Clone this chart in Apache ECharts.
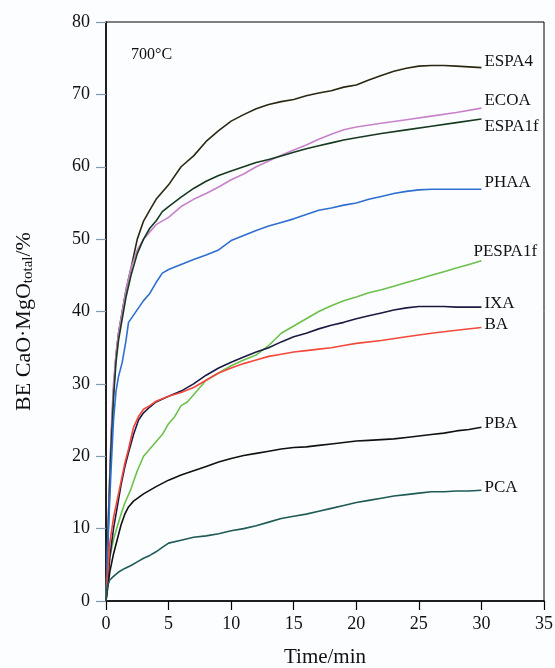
<!DOCTYPE html>
<html lang="en">
<head>
    <meta charset="utf-8">
    <title>700°C</title>
</head>
<body style="margin:0;background:#fcfdff;">
    <div id="main" style="width:555px;height:668px;"></div>
    <script src="https://cdn.jsdelivr.net/npm/echarts@6/dist/echarts.min.js"></script>
    <script type="text/javascript">
    // data: [time/min, BE %]
    var seriesNames = ['ESPA4', 'ECOA', 'ESPA1f', 'PHAA', 'PESPA1f', 'IXA', 'BA', 'PBA', 'PCA'];
    var xTicks = [0, 5, 10, 15, 20, 25, 30, 35];
    var yTicks = [0, 10, 20, 30, 40, 50, 60, 70, 80];

    var espa4 = [[0,0],[0.2,12],[0.4,22],[0.6,29],[0.8,34],[1,37],[1.3,40],[1.6,43],[2,46],[2.5,50],[3,52.5],[3.5,54],[4,55.5],[5,57.5],[6,60],[7,61.5],[8,63.5],[9,65],[10,66.3],[11,67.2],[12,68],[13,68.6],[14,69],[15,69.3],[16,69.8],[17,70.2],[18,70.5],[19,71],[20,71.3],[21,72],[22,72.6],[23,73.2],[24,73.6],[25,73.9],[26,74],[27,74],[28,73.9],[29,73.8],[30,73.7]];
    var ecoa = [[0,0],[0.2,12],[0.4,23],[0.6,30],[0.8,34],[1,37],[1.3,40],[1.6,43],[2,46],[2.5,48.5],[3,50],[3.5,51],[4,52],[5,53],[6,54.5],[7,55.5],[8,56.3],[9,57.2],[10,58.2],[11,59],[12,60],[13,60.8],[14,61.6],[15,62.3],[16,63],[17,63.8],[18,64.5],[19,65.1],[20,65.5],[22,66],[24,66.5],[26,67],[28,67.5],[30,68.1]];
    var espa1f = [[0,0],[0.2,11],[0.4,21],[0.6,28],[0.8,33],[1,36],[1.3,39],[1.6,42],[2,45],[2.5,48],[3,50],[3.5,51.5],[4,52.5],[4.5,53.8],[5,54.5],[6,55.8],[7,57],[8,58],[9,58.8],[10,59.4],[11,60],[12,60.6],[13,61],[14,61.5],[15,62],[16,62.5],[17,62.9],[18,63.3],[19,63.7],[20,64],[22,64.6],[24,65.1],[26,65.6],[28,66.1],[30,66.6]];
    var phaa = [[0,0],[0.2,10],[0.4,18],[0.6,25],[0.8,29],[1,31],[1.3,33],[1.6,36],[1.8,38.5],[2.2,39.5],[2.6,40.5],[3,41.5],[3.5,42.5],[4,44],[4.5,45.3],[5,45.8],[6,46.5],[7,47.2],[8,47.8],[9,48.5],[10,49.8],[11,50.5],[12,51.2],[13,51.8],[14,52.3],[15,52.8],[16,53.4],[17,54],[18,54.3],[19,54.7],[20,55],[21,55.5],[22,55.9],[23,56.3],[24,56.6],[25,56.8],[26,56.9],[28,56.9],[30,56.9]];
    var pespa1f = [[0,0],[0.3,6],[0.6,8.5],[0.9,10.3],[1.2,12],[1.5,13.5],[2,15.5],[2.5,18],[3,20],[3.5,21],[4,22],[4.5,23],[5,24.5],[5.5,25.5],[6,27],[6.5,27.5],[7,28.5],[7.5,29.5],[8,30.5],[9,31.5],[10,32.5],[11,33.3],[12,34],[13,35.3],[14,37],[15,38],[16,39],[17,40],[18,40.8],[19,41.5],[20,42],[21,42.6],[22,43],[23,43.5],[24,44],[25,44.5],[26,45],[27,45.5],[28,46],[29,46.5],[30,47]];
    var ixa = [[0,0],[0.3,6],[0.6,10],[0.9,13],[1.2,16],[1.5,18.5],[1.8,20.5],[2.2,23],[2.6,25],[3,26],[3.5,26.8],[4,27.5],[5,28.3],[6,29],[7,30],[8,31.2],[9,32.2],[10,33],[11,33.7],[12,34.4],[13,35],[14,35.8],[15,36.5],[16,37],[17,37.6],[18,38.1],[19,38.5],[20,39],[21,39.4],[22,39.8],[23,40.2],[24,40.5],[25,40.7],[26,40.7],[27,40.7],[28,40.6],[30,40.6]];
    var ba = [[0,0],[0.3,8],[0.6,11.5],[0.9,14],[1.2,16.5],[1.5,19],[1.8,21],[2.2,24],[2.6,25.5],[3,26.5],[3.5,27],[4,27.6],[5,28.3],[6,28.8],[7,29.5],[8,30.5],[9,31.5],[10,32.2],[11,32.8],[12,33.3],[13,33.8],[14,34.1],[15,34.4],[16,34.6],[17,34.8],[18,35],[19,35.3],[20,35.6],[22,36],[24,36.5],[26,37],[28,37.4],[30,37.8]];
    var pba = [[0,0],[0.3,4],[0.6,6.5],[0.9,8.5],[1.2,10.5],[1.5,12],[1.8,13],[2.2,13.8],[3,14.8],[4,15.8],[5,16.7],[6,17.4],[7,18],[8,18.6],[9,19.2],[10,19.7],[11,20.1],[12,20.4],[13,20.7],[14,21],[15,21.2],[16,21.3],[17,21.5],[18,21.7],[19,21.9],[20,22.1],[21,22.2],[22,22.3],[23,22.4],[24,22.6],[25,22.8],[26,23],[27,23.2],[28,23.5],[29,23.7],[30,24]];
    var pca = [[0,0],[0.1,2],[0.3,2.9],[0.6,3.4],[1,4],[1.5,4.5],[2,4.9],[2.5,5.4],[3,5.9],[3.5,6.3],[4,6.8],[4.5,7.4],[5,8],[6,8.4],[7,8.8],[8,9],[9,9.3],[10,9.7],[11,10],[12,10.4],[13,10.9],[14,11.4],[15,11.7],[16,12],[17,12.4],[18,12.8],[19,13.2],[20,13.6],[21,13.9],[22,14.2],[23,14.5],[24,14.7],[25,14.9],[26,15.1],[27,15.1],[28,15.2],[29,15.2],[30,15.3]];

    var seriesData = [espa4, ecoa, espa1f, phaa, pespa1f, ixa, ba, pba, pca];

    // look of each curve and where its name sits next to the end
    var colors = ['#2b2812', '#c882cc', '#173a20', '#2f6fcf', '#6cc04c', '#1d1a42', '#f2493b', '#111111', '#1e5a56'];
    var labelOffsets = [[-5,-6], [-5,-8], [-5,8], [-5,-7], [-16,-9], [-5,-4], [-5,-3], [-5,-4], [-5,-3]];

    var serif = '"Liberation Serif", "DejaVu Serif", serif';

    var myChart = echarts.init(document.getElementById('main'));

    var series = seriesNames.map(function (name, i) {
        return {
            name: name,
            type: 'line',
            data: seriesData[i],
            showSymbol: false,
            symbol: 'none',
            smooth: false,
            lineStyle: { color: colors[i], width: 1.6 },
            endLabel: {
                show: true,
                formatter: name,
                offset: labelOffsets[i],
                color: '#111',
                fontFamily: serif,
                fontSize: 17
            }
        };
    });

    var option = {
        backgroundColor: '#fcfdff',
        animation: false,
        title: {
            text: '700°C',
            left: 126,
            top: 42,
            textStyle: { color: '#111', fontFamily: serif, fontSize: 16, fontWeight: 'normal' }
        },
        grid: {
            show: true,
            left: 106,
            right: 11,
            top: 22,
            bottom: 67,
            outerBoundsMode: 'none',
            containLabel: false,
            borderColor: '#000',
            borderWidth: 1
        },
        xAxis: {
            type: 'value',
            min: 0,
            max: 35,
            interval: 5,
            name: 'Time/min',
            nameLocation: 'middle',
            nameGap: 46,
            nameTextStyle: { color: '#111', fontFamily: serif, fontSize: 21 },
            axisLine: { lineStyle: { color: '#000', width: 1.5 } },
            axisTick: { show: true, inside: false, length: 9, lineStyle: { color: '#000', width: 1.2 } },
            axisLabel: {
                color: '#111', fontFamily: serif, fontSize: 18, margin: 14,
                formatter: function (v) { return xTicks.indexOf(v) >= 0 ? String(v) : ''; }
            },
            splitLine: { show: false }
        },
        yAxis: {
            type: 'value',
            min: 0,
            max: 80,
            interval: 10,
            name: 'BE CaO·MgO{sub|total}/%',
            nameLocation: 'middle',
            nameGap: 70,
            nameRotate: 90,
            nameTextStyle: {
                color: '#111', fontFamily: serif, fontSize: 22,
                padding: [0, 20, 0, 0],
                rich: { sub: { fontFamily: serif, fontSize: 15, color: '#111', verticalAlign: 'bottom', padding: [9, 0, 0, 0] } }
            },
            axisLine: { show: true, lineStyle: { color: '#000', width: 1.5 } },
            axisTick: { show: true, inside: false, length: 10, lineStyle: { color: '#7f9aa8', width: 1.2 } },
            axisLabel: {
                color: '#111', fontFamily: serif, fontSize: 18, margin: 16,
                formatter: function (v) { return yTicks.indexOf(v) >= 0 ? String(v) : ''; }
            },
            splitLine: { show: false }
        },
        series: series
    };
    myChart.setOption(option);
    </script>
</body>
</html>
